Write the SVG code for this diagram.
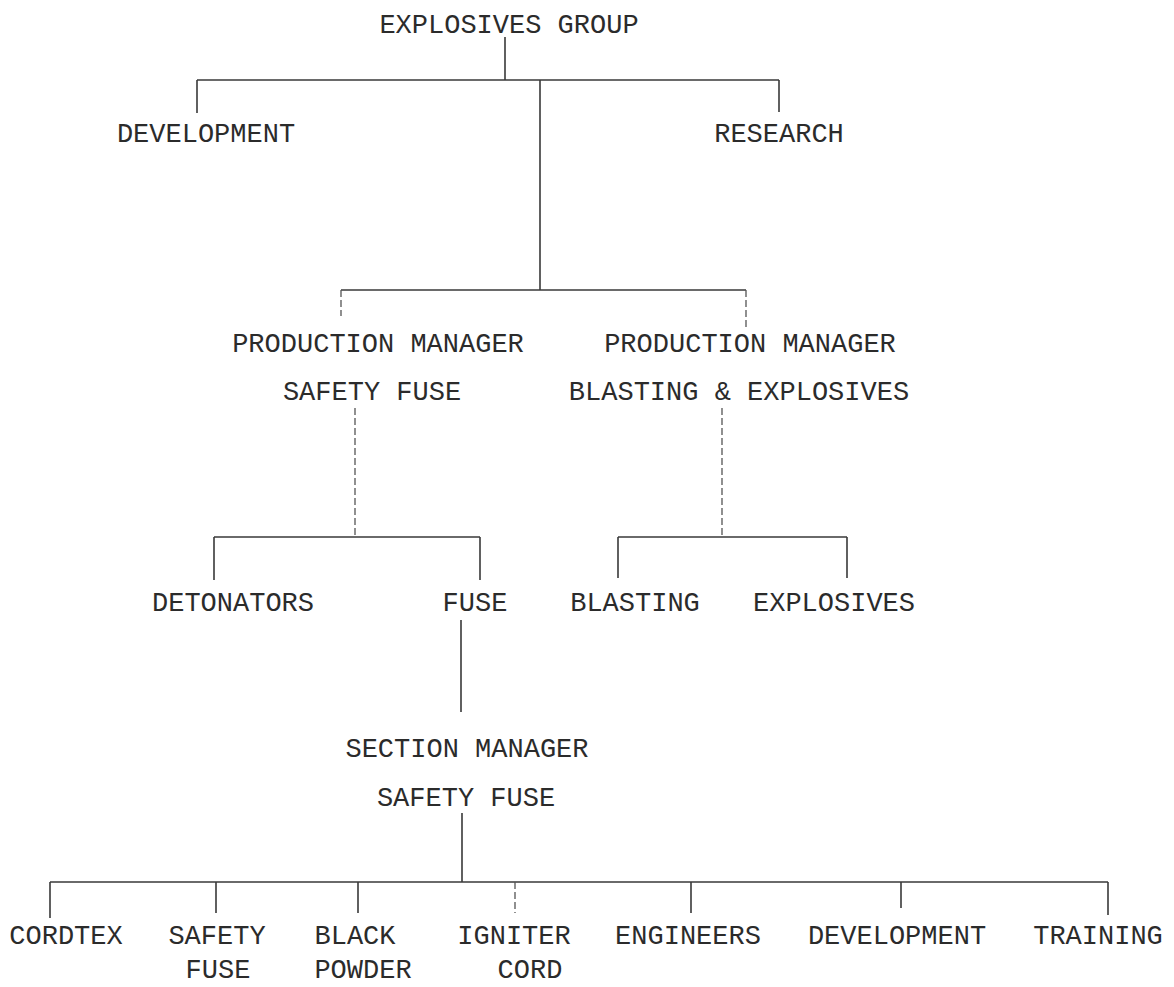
<svg xmlns="http://www.w3.org/2000/svg" width="1174" height="987" viewBox="0 0 1174 987">
<style>
.t{font-family:"Liberation Mono","DejaVu Sans Mono",monospace;font-size:27px;fill:#2b2b2b;text-anchor:middle}
.l{stroke:#3a3a3a;stroke-width:1.6;fill:none}
.d{stroke:#555;stroke-width:1.3;fill:none;stroke-dasharray:7 3}
</style>
<rect width="1174" height="987" fill="#fff"/>
<g id="connectors">
<path class="l" d="M505 37V80M197 80H779M197 80V113M779 80V112M540 80V290M341 290H746"/>
<path class="d" d="M341 290V316M746 290V330M355 408V537M722 408V537"/>
<path class="l" d="M214 537H480M214 537V580M480 537V580M618 537H847M618 537V578M847 537V578"/>
<path class="l" d="M461 620V712M462 813V882M50 882H1108M50 882V918M216 882V913M358 882V913M691 882V913M901 882V908M1108 882V915"/>
<path class="d" d="M515 882V913"/>
</g>
<g id="explosives-group"><text class="t" x="509" y="33">EXPLOSIVES GROUP</text></g>
<g id="development"><text class="t" x="206" y="142">DEVELOPMENT</text></g>
<g id="research"><text class="t" x="779" y="142">RESEARCH</text></g>
<g id="pm-safety-fuse"><text class="t" x="378" y="352">PRODUCTION MANAGER</text><text class="t" x="372" y="400">SAFETY FUSE</text></g>
<g id="pm-blasting"><text class="t" x="750" y="352">PRODUCTION MANAGER</text><text class="t" x="739" y="400">BLASTING &amp; EXPLOSIVES</text></g>
<g id="detonators"><text class="t" x="233" y="611">DETONATORS</text></g>
<g id="fuse"><text class="t" x="475" y="611">FUSE</text></g>
<g id="blasting"><text class="t" x="635" y="611">BLASTING</text></g>
<g id="explosives"><text class="t" x="834" y="611">EXPLOSIVES</text></g>
<g id="section-manager"><text class="t" x="467" y="757">SECTION MANAGER</text><text class="t" x="466" y="806">SAFETY FUSE</text></g>
<g id="cordtex"><text class="t" x="66" y="944">CORDTEX</text></g>
<g id="safety-fuse"><text class="t" x="217" y="944">SAFETY</text><text class="t" x="218" y="978">FUSE</text></g>
<g id="black-powder"><text class="t" x="355" y="944">BLACK</text><text class="t" x="363" y="978">POWDER</text></g>
<g id="igniter-cord"><text class="t" x="514" y="944">IGNITER</text><text class="t" x="530" y="978">CORD</text></g>
<g id="engineers"><text class="t" x="688" y="944">ENGINEERS</text></g>
<g id="development-2"><text class="t" x="897" y="944">DEVELOPMENT</text></g>
<g id="training"><text class="t" x="1098" y="944">TRAINING</text></g>
</svg>
